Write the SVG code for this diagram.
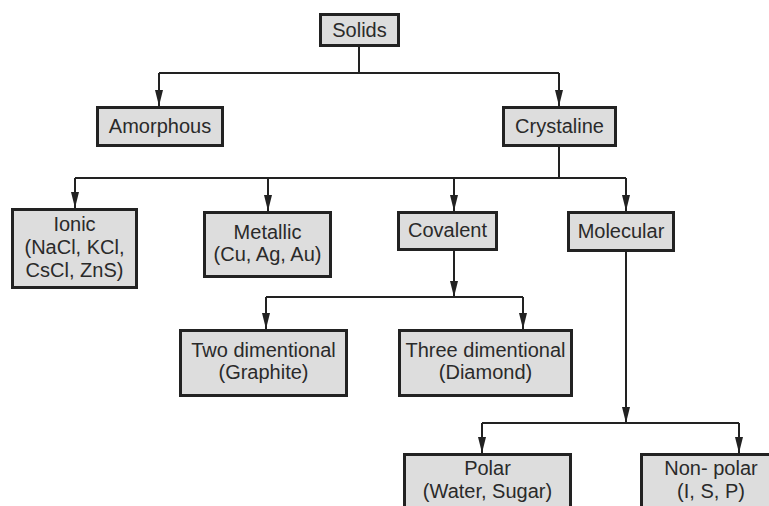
<svg xmlns="http://www.w3.org/2000/svg" width="769" height="506" viewBox="0 0 769 506">
<style>
.box{fill:#dddddd;stroke:#222;stroke-width:3}
.t{font-family:"Liberation Sans",Arial,sans-serif;font-size:20px;fill:#2a2a2a;text-anchor:middle}
.c{stroke:#222;stroke-width:2;fill:none}
.a{stroke:#222;stroke-width:2;fill:none;marker-end:url(#ah)}
</style>
<defs>
<marker id="ah" markerUnits="userSpaceOnUse" markerWidth="16" markerHeight="10" refX="16" refY="5" viewBox="0 0 16 10" orient="auto">
<path d="M0,1 L16,5 L0,9 Z" fill="#222"/>
</marker>
</defs>
<rect width="769" height="506" fill="#fff"/>
<g id="connectors">
<path class="c" d="M359,47 V73 M159,73 H559"/>
<path class="a" d="M159,73 V106"/>
<path class="a" d="M559,73 V106"/>
<path class="c" d="M559,147 V178 M75,178 H626"/>
<path class="a" d="M75,178 V208"/>
<path class="a" d="M268,178 V211"/>
<path class="a" d="M454,178 V211"/>
<path class="a" d="M626,178 V211"/>
<path class="a" d="M454,251 V297"/>
<path class="c" d="M266,297 H523"/>
<path class="a" d="M266,297 V329"/>
<path class="a" d="M523,297 V329"/>
<path class="a" d="M626,252 V423"/>
<path class="c" d="M482,423 H739"/>
<path class="a" d="M482,423 V453"/>
<path class="a" d="M739,423 V453"/>
</g>
<g id="solids"><rect class="box" x="320.5" y="14.5" width="78" height="31"/><text class="t" x="359.5" y="37">Solids</text></g>
<g id="amorphous"><rect class="box" x="97.5" y="107.5" width="125" height="38"/><text class="t" x="160" y="133">Amorphous</text></g>
<g id="crystaline"><rect class="box" x="503.5" y="107.5" width="112" height="38"/><text class="t" x="559.5" y="133">Crystaline</text></g>
<g id="ionic"><rect class="box" x="12.5" y="209.5" width="124" height="78"/><text class="t" x="74.5" y="231">Ionic</text><text class="t" x="74.5" y="254">(NaCl, KCl,</text><text class="t" x="74.5" y="277">CsCl, ZnS)</text></g>
<g id="metallic"><rect class="box" x="204.5" y="212.5" width="126" height="64"/><text class="t" x="267.5" y="239">Metallic</text><text class="t" x="267.5" y="261">(Cu, Ag, Au)</text></g>
<g id="covalent"><rect class="box" x="398.5" y="212.5" width="98" height="37"/><text class="t" x="447.5" y="237">Covalent</text></g>
<g id="molecular"><rect class="box" x="568.5" y="212.5" width="105" height="38"/><text class="t" x="621" y="238">Molecular</text></g>
<g id="two"><rect class="box" x="180.5" y="330.5" width="166" height="65"/><text class="t" x="263.5" y="357">Two dimentional</text><text class="t" x="263.5" y="379">(Graphite)</text></g>
<g id="three"><rect class="box" x="399.5" y="330.5" width="172" height="65"/><text class="t" x="485.5" y="357">Three dimentional</text><text class="t" x="485.5" y="379">(Diamond)</text></g>
<g id="polar"><rect class="box" x="404.5" y="454.5" width="166" height="65"/><text class="t" x="487.5" y="475">Polar</text><text class="t" x="487.5" y="498">(Water, Sugar)</text></g>
<g id="nonpolar"><rect class="box" x="641.5" y="454.5" width="150" height="65"/><text class="t" x="711" y="475">Non- polar</text><text class="t" x="711" y="498">(I, S, P)</text></g>
</svg>
